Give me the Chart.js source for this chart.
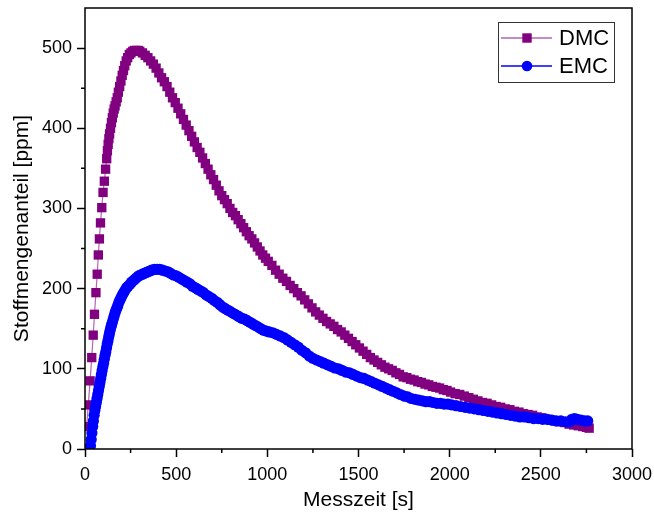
<!DOCTYPE html>
<html>
<head>
<meta charset="utf-8">
<script src="https://cdn.jsdelivr.net/npm/chart.js@4/dist/chart.umd.min.js"></script>
<style>
  body { margin: 0; background: #fff; }
  canvas { display: block; }
</style>
</head>
<body>
<canvas id="myChart" width="654" height="519"></canvas>
<script>
// values (time in s, amount in ppm)
const dmcTime = [9, 18, 28, 37, 45, 52, 60, 67, 73, 79, 85, 92, 99, 106, 113, 119,
  123, 127, 131, 135, 140, 145, 150, 155, 160, 165, 171, 177, 183, 190, 197, 204, 211, 218, 226, 234, 243, 252, 262, 272, 282, 292,
  300, 315, 330, 345, 360, 375, 390, 405, 420, 435, 450, 465, 480, 495, 510, 525, 540, 555, 570, 585, 600, 615, 630, 645, 660, 675,
  690, 705, 720, 735, 750, 765, 780, 795, 810, 825, 840, 855, 870, 885, 900, 915, 930, 945, 960, 975, 990, 1005,
  1025, 1045, 1065, 1085, 1105, 1125, 1145, 1165, 1185, 1205, 1225, 1245, 1265, 1285, 1305, 1325, 1345, 1365, 1385, 1405,
  1425, 1445, 1465, 1485, 1505, 1525, 1545, 1565, 1585, 1605, 1625, 1645, 1665, 1685, 1705, 1725, 1745, 1765, 1785, 1805,
  1825, 1845, 1865, 1885, 1905, 1925, 1945, 1965, 1985, 2005,
  2030, 2055, 2080, 2105, 2130, 2155, 2180, 2205, 2230, 2255, 2280, 2305, 2330, 2355, 2380, 2405, 2430, 2455, 2480, 2505,
  2530, 2555, 2580, 2605, 2630, 2655, 2680, 2705, 2730, 2750, 2765];
const dmcPpm = [28, 55, 85, 114, 142, 168, 195, 218, 242, 262, 282, 301, 320, 334, 349, 362,
  372, 380, 387, 393, 400, 407, 413, 419, 424, 428, 433, 438, 445, 452, 459, 466, 472, 478, 484, 488, 492, 494, 496, 497, 497, 497,
  496, 494, 491, 488, 484, 480, 475, 469, 463, 458, 452, 445, 438, 432, 425, 418, 411, 404, 397, 390, 383, 376, 370, 363, 356, 349,
  342, 336, 329, 322, 316, 311, 306, 300, 295, 291, 286, 281, 276, 271, 266, 262, 257, 252, 247, 242, 238, 234,
  229, 223, 218, 213, 209, 204, 200, 195, 191, 186, 181, 176, 171, 167, 163, 159, 156, 153, 149, 146,
  142, 138, 134, 130, 126, 122, 118, 114, 111, 108, 105, 102, 100, 98, 95, 93, 90, 89, 87, 86,
  84, 83, 81, 80, 78, 77, 76, 74, 73, 71,
  69, 68, 66, 64, 62, 60, 58, 57, 55, 53, 52, 50, 49, 47, 46, 44, 43, 42, 40, 39,
  37, 36, 35, 34, 33, 31, 30, 29, 28, 27, 26];

const emcTime = [30, 34, 38, 42, 46, 50, 54, 58, 62, 66, 70, 74, 78, 82, 86, 90, 94, 98, 102, 106, 110, 114, 118, 122, 126,
  130, 134, 138, 142, 146, 150, 155, 160, 165, 170, 175, 180, 186, 192, 198, 205, 212, 220, 228, 236, 245, 255, 265, 275, 285,
  295, 305, 315, 325, 335, 345, 355, 365, 380, 395, 410, 425, 440, 455, 470, 485, 500, 515, 530, 545, 560, 575, 590, 605, 620,
  635, 650, 665, 680, 695, 710, 725, 740, 755, 770, 785, 800, 815, 830, 845, 860, 875, 890, 905, 920, 935, 950, 965, 980, 995,
  1010, 1030, 1050, 1070, 1090, 1110, 1130, 1150, 1170, 1190, 1210, 1230, 1250, 1270, 1290, 1310, 1330, 1350, 1370, 1390,
  1410, 1430, 1450, 1470, 1490, 1510, 1530, 1550, 1570, 1590, 1610, 1630, 1650, 1670, 1690, 1710, 1730, 1750, 1770, 1790,
  1810, 1830, 1850, 1870, 1890, 1910, 1930, 1950, 1970, 1990, 2010, 2035, 2060, 2085, 2110, 2135, 2160, 2185, 2210, 2235,
  2260, 2285, 2310, 2335, 2360, 2385, 2410, 2435, 2460, 2485, 2510, 2535, 2560, 2585, 2610, 2635, 2660, 2670, 2685, 2700,
  2720, 2740, 2757];
const emcPpm = [4, 12, 20, 28, 35, 42, 48, 53, 58, 63, 68, 73, 78, 83, 88, 93, 98, 103, 107, 112, 117, 121, 126, 131, 135,
  140, 144, 148, 152, 155, 158, 162, 166, 170, 173, 176, 179, 183, 186, 189, 192, 195, 198, 201, 203, 205, 208, 210, 212, 214,
  216, 217, 218, 219, 220, 221, 222, 223, 224, 224, 224, 223, 222, 221, 219, 217, 216, 214, 212, 210, 208, 206, 203, 201, 199,
  197, 195, 192, 190, 188, 185, 183, 180, 177, 175, 173, 171, 169, 167, 165, 163, 162, 160, 158, 156, 154, 152, 150, 148, 147,
  146, 145, 143, 141, 139, 136, 133, 130, 127, 123, 120, 116, 113, 111, 109, 107, 105, 103, 101, 100,
  98, 96, 95, 93, 91, 89, 88, 86, 84, 82, 80, 78, 76, 74, 72, 70, 68, 66, 65, 63,
  62, 61, 60, 59, 59, 58, 57, 57, 56, 56, 55, 54, 53, 52, 51, 50, 49, 48, 47, 46,
  45, 44, 43, 42, 41, 40, 40, 39, 38, 38, 37, 37, 36, 35, 35, 34, 34, 37, 38, 37,
  36, 35, 35];

const seriesNames = ['DMC', 'EMC'];
const xTicks = [0, 500, 1000, 1500, 2000, 2500, 3000];
const xMinor = [250, 750, 1250, 1750, 2250, 2750];
const yTicks = [0, 100, 200, 300, 400, 500];
const yMinor = [50, 150, 250, 350, 450];

const FONT = "'Liberation Sans', Arial, sans-serif";

// frame, minor ticks and the legend box inside the plot
const framePlugin = {
  id: 'frame',
  afterDraw(chart) {
    const {ctx, chartArea: a, scales: {x, y}} = chart;
    ctx.save();
    ctx.strokeStyle = '#000';
    ctx.lineWidth = 1.5;
    ctx.strokeRect(a.left, a.top, a.right - a.left, a.bottom - a.top);
    ctx.beginPath();
    xMinor.forEach(v => {
      const px = x.getPixelForValue(v);
      ctx.moveTo(px, a.bottom);
      ctx.lineTo(px, a.bottom + 4);
    });
    yMinor.forEach(v => {
      const py = y.getPixelForValue(v);
      ctx.moveTo(a.left, py);
      ctx.lineTo(a.left - 4, py);
    });
    ctx.stroke();

    // legend
    const bx = 498, by = 22, bw = 116, bh = 60;
    ctx.fillStyle = '#fff';
    ctx.fillRect(bx, by, bw, bh);
    ctx.lineWidth = 1;
    ctx.strokeStyle = '#333';
    ctx.strokeRect(bx + 0.5, by + 0.5, bw, bh);
    const rows = [by + 16, by + 44];
    chart.data.datasets.slice().sort((p, q) => p.legendIndex - q.legendIndex).forEach((ds, i) => {
      const ry = rows[i];
      ctx.strokeStyle = ds.legendLine;
      ctx.lineWidth = 1.5;
      ctx.beginPath();
      ctx.moveTo(bx + 3, ry);
      ctx.lineTo(bx + 54, ry);
      ctx.stroke();
      ctx.fillStyle = ds.pointBackgroundColor;
      if (ds.pointStyle === 'rect') {
        ctx.fillRect(bx + 29 - 4.7, ry - 4.7, 9.4, 9.4);
      } else {
        ctx.beginPath();
        ctx.arc(bx + 29, ry, 5.3, 0, Math.PI * 2);
        ctx.fill();
      }
      ctx.fillStyle = '#000';
      ctx.font = '22px ' + FONT;
      ctx.textBaseline = 'middle';
      ctx.textAlign = 'left';
      ctx.fillText(ds.label, bx + 61, ry + 1);
    });
    ctx.restore();
  }
};

const data = {
  datasets: [{
    label: seriesNames[1],
    legendIndex: 1,
    order: 0,
    data: emcTime.map((t, i) => ({x: t, y: emcPpm[i]})),
    borderColor: '#0000ff',
    legendLine: '#0000ff',
    borderWidth: 1,
    pointStyle: 'circle',
    pointRadius: 5.6,
    pointBorderWidth: 0,
    pointBackgroundColor: '#0000ff'
  }, {
    label: seriesNames[0],
    legendIndex: 0,
    order: 1,
    data: dmcTime.map((t, i) => ({x: t, y: dmcPpm[i]})),
    borderColor: 'rgba(128,0,128,0.6)',
    legendLine: 'rgba(160,60,160,0.8)',
    borderWidth: 1.2,
    pointStyle: 'rect',
    pointRadius: 6.6,
    pointBorderWidth: 0,
    pointBackgroundColor: '#800080'
  }]
};

const config = {
  type: 'line',
  data,
  options: {
    responsive: false,
    animation: false,
    devicePixelRatio: 1,
    layout: { padding: { left: 0, right: 22, top: 8, bottom: 0 } },
    plugins: {
      legend: { display: false },
      tooltip: { enabled: false }
    },
    scales: {
      x: {
        type: 'linear',
        min: 0,
        max: 3000,
        afterFit: s => { s.height = 70; s.paddingLeft = 0; s.paddingRight = 0; },
        afterBuildTicks: s => { s.ticks = xTicks.map(v => ({value: v})); },
        ticks: { color: '#000', font: { family: FONT, size: 18 }, padding: 7, maxRotation: 0, callback: v => String(v) },
        grid: { drawOnChartArea: false, tickLength: 8, tickWidth: 1.5, tickColor: '#000' },
        border: { display: false },
        title: { display: true, text: 'Messzeit [s]', color: '#000', font: { family: FONT, size: 21 }, padding: { top: 0, bottom: 6 } }
      },
      y: {
        min: 0,
        max: 550,
        afterFit: s => { s.width = 85; s.paddingTop = 0; s.paddingBottom = 0; },
        afterBuildTicks: s => { s.ticks = yTicks.map(v => ({value: v})); },
        ticks: { color: '#000', font: { family: FONT, size: 18 }, padding: 5, callback: v => String(v) },
        grid: { drawOnChartArea: false, tickLength: 8, tickWidth: 1.5, tickColor: '#000' },
        border: { display: false },
        title: { display: true, text: 'Stoffmengenanteil [ppm]', color: '#000', font: { family: FONT, size: 21 }, padding: { top: 10, bottom: 0 } }
      }
    }
  },
  plugins: [framePlugin]
};

const myChart = new Chart(document.getElementById('myChart').getContext('2d'), config);
</script>
</body>
</html>
